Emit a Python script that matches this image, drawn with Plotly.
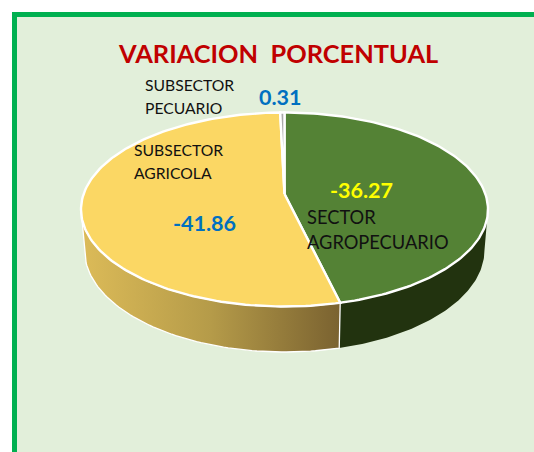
import numpy as np
import plotly.graph_objects as go

title = "VARIACION  PORCENTUAL"
categories = ["SECTOR<br>AGROPECUARIO", "SUBSECTOR<br>AGRICOLA", "SUBSECTOR<br>PECUARIO"]
values = [-36.27, -41.86, 0.31]
value_labels = ["-36.27", "-41.86", "0.31"]
colors = ["#548235", "#FBD764", "#A9A9A9"]

CX, CY, RX, RY, TILT = 284.5, 209.5, 203.5, 97.0, -0.16
WCY, WRX, WRY = 250.0, 200.0, 102.0


def unit(theta):
    u, v = np.sin(theta), -np.cos(theta)
    d = 1 + TILT * v
    return u * np.sqrt(1 - TILT ** 2) / d, (v + TILT) / d


def top(theta):
    u, v = unit(theta)
    return CX + RX * u, CY + RY * v


def bottom(theta):
    u, v = unit(theta)
    return CX + WRX * u, WCY + WRY * v


shares = np.abs(values) / np.abs(values).sum()
edges = np.concatenate([[0], np.cumsum(shares)]) * 2 * np.pi
wall_end = np.arccos(TILT)  # rim point level with the widest part of the ellipse

fig = go.Figure()


def wall(a, b, grad, outline):
    th = np.linspace(a, b, 80)
    xt, yt = top(th)
    xb, yb = bottom(th[::-1])
    fig.add_trace(go.Scatter(
        x=np.r_[xt, xb, xt[0]], y=np.r_[yt, yb, yt[0]], mode="lines", fill="toself",
        line=dict(color="white", width=outline),
        fillgradient=dict(type="horizontal", colorscale=grad),
        hoverinfo="skip", showlegend=False))


wall(wall_end, edges[1], [[0, "#22330F"], [1, "#22330F"]], 0)
wall(edges[1], 2 * np.pi - wall_end, [[0, "#DCBB58"], [0.5, "#B59B49"], [1, "#7A6230"]], 1.3)

for i, name in enumerate(categories):
    th = np.linspace(edges[i], edges[i + 1], max(4, int(shares[i] * 300)))
    xr, yr = top(th)
    ax, ay = CX, CY + RY * TILT
    fig.add_trace(go.Scatter(
        x=np.r_[ax, xr, ax], y=np.r_[ay, yr, ay], mode="lines", fill="toself",
        fillcolor=colors[i], line=dict(color="white", width=2.4),
        name=name.replace("<br>", " "), hoverinfo="name", showlegend=False))

text_spots = [(304.5, 217, 242, 18.3), (132, 150, 173, 15.7), (142.5, 85, 108, 15.7)]
value_spots = [(361, 189.5, "#FFFF00"), (204, 222.5, "#0070C0"), (280, 96.5, "#0070C0")]
for name, (x, y1, y2, s), lab, (vx, vy, c) in zip(categories, text_spots, value_labels, value_spots):
    for line, y in zip(name.split("<br>"), (y1, y2)):
        fig.add_annotation(x=x, y=y, xref="x", yref="y", text=line, showarrow=False, xanchor="left",
                           yanchor="middle", align="left", font=dict(family="Lato", size=s, color="#111111"))
    fig.add_annotation(x=vx, y=vy, xref="x", yref="y", text="<b>%s</b>" % lab, showarrow=False,
                       font=dict(family="Lato", size=21.5, color=c))

fig.add_annotation(x=277.5, y=52.5, xref="x", yref="y", text="<b>%s</b>" % title, showarrow=False,
                   font=dict(family="Lato", size=25.4, color="#C00000"))

fig.update_layout(
    width=534, height=452, margin=dict(l=0, r=0, t=0, b=0),
    paper_bgcolor="white", plot_bgcolor="white",
    xaxis=dict(range=[0, 534], visible=False, fixedrange=True),
    yaxis=dict(range=[452, 0], visible=False, fixedrange=True),
    shapes=[dict(type="rect", xref="x", yref="y", x0=14.5, y0=14.5, x1=700, y1=700, layer="below",
                 line=dict(color="#00B050", width=5), fillcolor="#E2EFDA")],
)
fig.write_html("out.html", config=dict(displayModeBar=False),
               post_script="document.body.style.margin='0';document.body.style.overflow='hidden';")
